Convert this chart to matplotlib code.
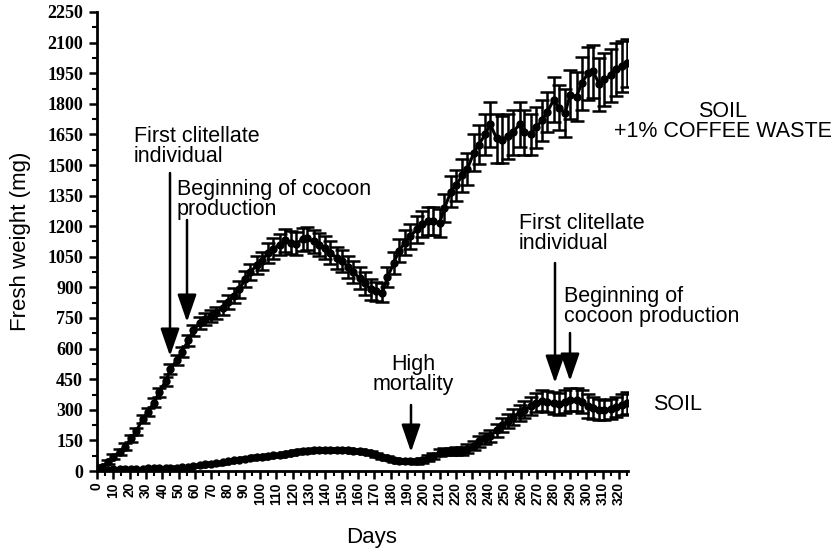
import matplotlib
matplotlib.use("Agg")
import matplotlib.pyplot as plt
from matplotlib.ticker import MultipleLocator

days = [0, 3, 7, 10, 14, 17, 21, 24, 28, 31, 35, 38, 42, 45, 49, 52, 56, 59, 63, 66,
        70, 73, 77, 80, 84, 87, 91, 94, 98, 101, 105, 108, 112, 115, 119, 122, 126, 129,
        133, 136, 140, 143, 147, 150, 154, 157, 161, 164, 168, 171, 175, 178, 182, 185,
        189, 192, 196, 199, 203, 206, 210, 213, 217, 220, 224, 227, 231, 234, 238, 241,
        245, 248, 252, 255, 259, 262, 266, 269, 273, 276, 280, 283, 287, 290, 294, 297,
        301, 304, 308, 311, 315, 318, 322, 325]

coffee_mean = [0, 20, 45, 70, 95, 120, 160, 195, 255, 290, 335, 385, 440, 500, 545, 585,
               640, 690, 725, 745, 760, 775, 800, 830, 860, 890, 940, 975, 1010, 1030,
               1070, 1090, 1110, 1130, 1120, 1115, 1135, 1140, 1125, 1110, 1095, 1070,
               1045, 1030, 1000, 975, 945, 920, 890, 880, 875, 950, 1020, 1080, 1120,
               1150, 1185, 1210, 1225, 1225, 1215, 1290, 1370, 1400, 1450, 1480, 1560,
               1600, 1650, 1700, 1630, 1625, 1640, 1660, 1700, 1660, 1650, 1685, 1720,
               1760, 1820, 1780, 1755, 1845, 1835, 1900, 1950, 1960, 1895, 1920, 1940,
               1970, 1985, 2000]
coffee_err = [5, 8, 10, 12, 15, 15, 18, 18, 20, 20, 22, 22, 22, 25, 25, 25, 28, 28, 30,
              30, 30, 30, 35, 35, 35, 40, 40, 40, 45, 45, 50, 50, 50, 55, 55, 55, 55, 55,
              55, 55, 55, 55, 55, 55, 55, 55, 55, 55, 50, 45, 45, 50, 55, 55, 60, 60, 65,
              65, 70, 70, 70, 70, 75, 75, 80, 80, 90, 95, 100, 110, 120, 115, 110, 110,
              110, 110, 100, 100, 100, 100, 110, 110, 120, 120, 120, 130, 130, 130, 130,
              130, 130, 130, 125, 120]

soil_mean = [0, 3, 6, 8, 10, 10, 11, 12, 12, 13, 14, 14, 15, 16, 17, 18, 20, 24, 28, 32,
             35, 38, 42, 48, 52, 56, 60, 63, 67, 70, 74, 76, 80, 84, 90, 95, 98, 100, 102,
             102, 103, 103, 103, 103, 102, 100, 98, 94, 86, 78, 70, 64, 56, 50, 48, 47,
             48, 52, 65, 75, 90, 95, 97, 98, 100, 110, 125, 145, 160, 170, 200, 225, 245,
             265, 285, 300, 320, 335, 345, 340, 334, 328, 340, 350, 350, 340, 320, 310,
             300, 300, 305, 315, 325, 334]
soil_err = [2, 3, 3, 4, 4, 4, 5, 5, 5, 5, 5, 5, 6, 6, 6, 6, 6, 6, 7, 7, 7, 7, 8, 8, 8, 8,
            8, 8, 9, 9, 9, 9, 10, 10, 10, 10, 10, 10, 10, 10, 10, 10, 10, 10, 10, 10, 10,
            10, 10, 10, 10, 10, 10, 10, 10, 10, 12, 12, 14, 14, 16, 16, 18, 18, 20, 22,
            24, 26, 28, 30, 32, 34, 36, 38, 40, 42, 45, 48, 50, 52, 55, 55, 55, 55, 58,
            58, 58, 55, 52, 50, 50, 50, 52, 55]

x_ticks = list(range(0, 330, 10))
y_ticks = list(range(0, 2251, 150))

W, H = 837, 549
fig = plt.figure(figsize=(W / 100, H / 100), dpi=100)
ax = fig.add_axes([97 / W, 1 - 471 / H, (628 - 97) / W, (471 - 12) / H])

sans = ["Liberation Sans", "DejaVu Sans"]
serif = ["Liberation Serif", "DejaVu Serif"]

for m, e in ((coffee_mean, coffee_err), (soil_mean, soil_err)):
    ax.errorbar(days, m, yerr=e, color="black", lw=2.2, elinewidth=1.8, capsize=5,
                capthick=1.8, marker="o", ms=5, mfc="black", mec="black", zorder=3)

ax.set_xlim(0, 325.5)
ax.set_ylim(0, 2250)
ax.set_xticks(x_ticks)
ax.set_xticklabels([str(t) for t in x_ticks], rotation=90, fontfamily=sans,
                   fontweight="bold", fontsize=10)
ax.xaxis.set_minor_locator(MultipleLocator(5))
ax.set_yticks(y_ticks)
ax.set_yticklabels([str(t) for t in y_ticks], fontfamily=serif, fontweight="bold",
                   fontsize=13)
ax.yaxis.set_minor_locator(MultipleLocator(75))
ax.tick_params(axis="both", which="major", direction="out", length=6, width=1.8,
               color="black", pad=2)
ax.tick_params(axis="y", which="major", pad=4)
ax.tick_params(axis="both", which="minor", direction="out", length=3.5, width=1.5,
               color="black")
for s in ("top", "right"):
    ax.spines[s].set_visible(False)
for s in ("left", "bottom"):
    ax.spines[s].set_linewidth(2)

ax.set_xlabel("Days", fontfamily=sans, fontsize=16, labelpad=16)
ax.xaxis.set_label_coords((372 - 97) / (628 - 97), -(537 - 471) / (471 - 12))
ax.xaxis.label.set_verticalalignment("center")
ax.set_ylabel("Fresh weight (mg)", fontfamily=sans, fontsize=16, labelpad=12)


def px2data(px, py):
    return ((px - 97) / (628 - 97) * 325.5, (471 - py) / (471 - 12) * 2250)


def arrow(px, y0, y1):
    ax.annotate("", xy=px2data(px, y1), xytext=px2data(px, y0),
                arrowprops=dict(arrowstyle="-|>,head_length=1.3,head_width=0.45",
                                lw=1.8, color="black", mutation_scale=13,
                                shrinkA=0, shrinkB=0), zorder=5)


arrow(170, 173, 356)
arrow(187, 220, 322)
arrow(411, 405, 452)
arrow(555, 263, 383)
arrow(570, 333, 381)

tk = dict(fontfamily=sans, fontsize=15.5, color="black", linespacing=0.95)
fig.text(134 / W, 1 - 126 / H, "First clitellate\nindividual", ha="left", va="top", **tk)
fig.text(177 / W, 1 - 179 / H, "Beginning of cocoon\nproduction", ha="left", va="top", **tk)
fig.text(413 / W, 1 - 354 / H, "High\nmortality", ha="center", va="top", **tk)
fig.text(519 / W, 1 - 213 / H, "First clitellate\nindividual", ha="left", va="top", **tk)
fig.text(564 / W, 1 - 286 / H, "Beginning of\ncocoon production", ha="left", va="top", **tk)
fig.text(723 / W, 1 - 101 / H, "SOIL\n+1% COFFEE WASTE", ha="center", va="top",
         multialignment="center", **tk)
fig.text(653 / W, 1 - 405 / H, "SOIL", ha="left", va="center", **tk)

fig.savefig("out.png", dpi=100)
